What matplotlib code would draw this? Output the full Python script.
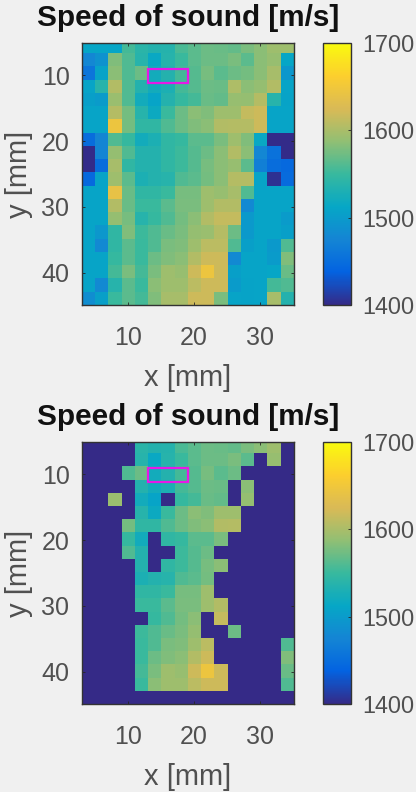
import matplotlib
matplotlib.use("Agg")
import matplotlib.pyplot as plt
import numpy as np
from matplotlib.colors import LinearSegmentedColormap
from matplotlib.patches import Rectangle

plt.rcParams['font.family'] = ['Liberation Sans', 'DejaVu Sans']

# speed of sound per cell, rows top to bottom
speed = np.array([
    [1512, 1512, 1512, 1555, 1540, 1535, 1536, 1558, 1565, 1572, 1570, 1568, 1578, 1584, 1594, 1594],
    [1478, 1490, 1580, 1560, 1538, 1515, 1538, 1550, 1565, 1572, 1572, 1578, 1565, 1584, 1591, 1512],
    [1458, 1508, 1584, 1560, 1572, 1522, 1535, 1555, 1562, 1576, 1565, 1572, 1575, 1584, 1599, 1495],
    [1510, 1538, 1604, 1560, 1535, 1522, 1530, 1555, 1562, 1572, 1570, 1602, 1584, 1589, 1604, 1510],
    [1505, 1500, 1592, 1560, 1522, 1510, 1535, 1548, 1555, 1570, 1568, 1591, 1589, 1606, 1538, 1508],
    [1510, 1510, 1606, 1575, 1538, 1518, 1550, 1572, 1584, 1580, 1594, 1594, 1614, 1619, 1510, 1510],
    [1510, 1510, 1645, 1575, 1545, 1545, 1560, 1572, 1580, 1584, 1604, 1606, 1606, 1619, 1510, 1510],
    [1450, 1475, 1560, 1548, 1522, 1530, 1545, 1548, 1565, 1565, 1578, 1594, 1580, 1515, 1402, 1402],
    [1402, 1475, 1589, 1560, 1535, 1535, 1545, 1552, 1562, 1572, 1584, 1604, 1584, 1478, 1455, 1402],
    [1402, 1450, 1599, 1545, 1535, 1535, 1545, 1552, 1562, 1576, 1584, 1591, 1565, 1470, 1450, 1445],
    [1445, 1510, 1594, 1565, 1530, 1535, 1538, 1560, 1565, 1575, 1584, 1606, 1606, 1510, 1405, 1448],
    [1510, 1510, 1640, 1570, 1545, 1545, 1550, 1576, 1576, 1594, 1591, 1599, 1560, 1510, 1510, 1510],
    [1510, 1510, 1604, 1570, 1550, 1550, 1565, 1578, 1578, 1594, 1604, 1604, 1480, 1510, 1510, 1510],
    [1510, 1510, 1589, 1576, 1538, 1548, 1560, 1575, 1584, 1604, 1614, 1614, 1498, 1510, 1510, 1500],
    [1510, 1495, 1545, 1580, 1552, 1560, 1570, 1578, 1589, 1592, 1606, 1572, 1498, 1510, 1510, 1505],
    [1510, 1480, 1545, 1565, 1550, 1560, 1578, 1580, 1594, 1609, 1609, 1560, 1505, 1510, 1498, 1560],
    [1510, 1510, 1548, 1565, 1550, 1572, 1580, 1584, 1604, 1619, 1619, 1480, 1510, 1510, 1500, 1580],
    [1510, 1510, 1555, 1578, 1555, 1578, 1594, 1591, 1619, 1645, 1619, 1505, 1510, 1510, 1512, 1570],
    [1510, 1480, 1538, 1565, 1550, 1584, 1594, 1594, 1609, 1619, 1619, 1500, 1508, 1510, 1555, 1560],
    [1485, 1505, 1550, 1565, 1555, 1580, 1599, 1599, 1619, 1619, 1578, 1510, 1508, 1510, 1599, 1535],
])

# cells kept in the lower map ('#' kept, '.' set to the floor value)
keep = [
    "....###########.",
    "....#########.#.",
    "...#########....",
    "....#######.#...",
    "..#.##.####.#...",
    "....########....",
    "...#########....",
    "...##.#####.....",
    "...##..###......",
    "....#.#####.....",
    "....######......",
    "....######......",
    "....#######.....",
    ".....####.#.....",
    "....#####..#....",
    "....######.....#",
    "....######.....#",
    "....#######....#",
    "....#######....#",
    "................",
]
floor_value = 1400

x_ticks = [10, 20, 30]
y_ticks = [10, 20, 30, 40]
cbar_ticks = [1400, 1500, 1600, 1700]
title = "Speed of sound [m/s]"

parula = LinearSegmentedColormap.from_list("parula", [
    "#352a87", "#0363e1", "#1485d4", "#06a7c6", "#38b99e",
    "#92bf73", "#d9ba56", "#fcce2e", "#f9fb0e"])

W, H = 416, 792
BG = "#f0f0f0"
INK = "#505050"
TICK_FS = 18
CBAR_FS = 16.8
LABEL_FS = 21


def px_axes(fig, left, top, right, bottom):
    return fig.add_axes([left / W, 1 - bottom / H, (right - left) / W, (bottom - top) / H])


def panel(fig, data, top, bottom):
    ax = px_axes(fig, 82, top, 294, bottom)
    im = ax.imshow(data, cmap=parula, vmin=1400, vmax=1700, aspect='auto',
                   extent=[3.1, 35.1, 44.85, 4.85], interpolation='nearest')
    ax.set_ylim(44.85, 5.15)
    ax.add_patch(Rectangle((13.1, 9.15), 6, 2, fill=False, edgecolor='#e619e6', lw=1.6))
    ax.set_xticks(x_ticks)
    ax.set_yticks(y_ticks)
    ax.tick_params(direction='in', length=2.5, width=0.6, color='#262626', labelcolor=INK,
                   labelsize=TICK_FS, top=True, right=True)
    ax.tick_params(axis='x', pad=15)
    ax.tick_params(axis='y', pad=9)
    ax.set_xlabel("x [mm]", fontsize=LABEL_FS, color=INK, labelpad=10)
    ax.set_ylabel("y [mm]", fontsize=LABEL_FS, color=INK, labelpad=6)
    ax.set_title(title, fontsize=21.4, fontweight='bold', color='#111111', pad=12)
    for s in ax.spines.values():
        s.set_color('#333333')
        s.set_linewidth(1.0)

    cax = px_axes(fig, 323, top, 351, bottom)
    cb = fig.colorbar(im, cax=cax)
    cb.set_ticks(cbar_ticks)
    cax.tick_params(direction='in', length=2, width=0.6, color='#262626', labelcolor=INK,
                    labelsize=CBAR_FS, pad=8)
    cb.outline.set_edgecolor('#333333')
    cb.outline.set_linewidth(1.0)


masked = speed.copy()
for i, row in enumerate(keep):
    for j, c in enumerate(row):
        if c == '.':
            masked[i, j] = floor_value

fig = plt.figure(figsize=(W / 100, H / 100), dpi=100, facecolor=BG)
panel(fig, speed, 43, 305)
panel(fig, masked, 442, 704)
fig.savefig("out.png", dpi=100, facecolor=BG)
